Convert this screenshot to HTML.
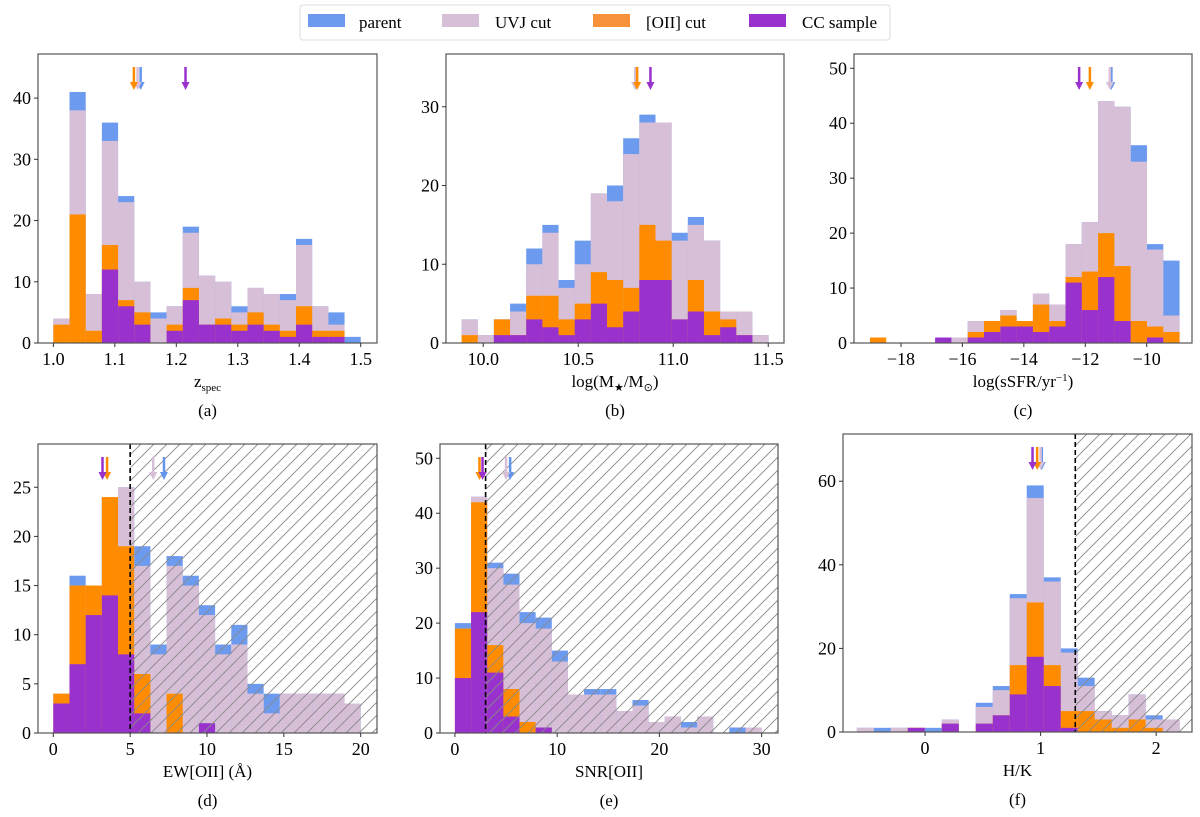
<!DOCTYPE html>
<html><head><meta charset="utf-8"><style>
body{margin:0;background:#fff;}
svg{display:block;font-family:"Liberation Serif",serif;}
</style></head><body>
<svg id="fig" width="1200" height="817" viewBox="0 0 1200 817">
<defs>
<pattern id="hatch" patternUnits="userSpaceOnUse" width="13" height="13">
<path d="M-1,14 L14,-1 M-1,1 L1,-1 M12,14 L14,12" stroke="#888" stroke-width="0.9"/>
</pattern>
</defs>
<g>
<rect x="300" y="5" width="590" height="35" rx="3" fill="#fff" stroke="#ddd"/>
<rect x="308" y="14" width="37" height="13" fill="#6495ed" opacity="0.95"/>
<text x="359" y="28" font-size="17">parent</text>
<rect x="442" y="14" width="37" height="13" fill="#d8bfd8"/>
<text x="495" y="28" font-size="17">UVJ cut</text>
<rect x="593" y="14" width="37" height="13" fill="#f7923a"/>
<text x="646" y="28" font-size="17">[OII] cut</text>
<rect x="749" y="14" width="37" height="13" fill="#9932cc"/>
<text x="802" y="28" font-size="17">CC sample</text>
</g>
</svg>
<script>
// ---- data ----
const zEdges0 = 1.0, zEdges1 = 1.5;
const zParent = [4,41,8,36,24,10,5,6,19,11,10,6,9,8,8,17,6,5,1];
const zUVJ    = [4,38,8,33,23,10,4,6,18,11,10,5,9,8,7,16,6,3,0];
const zOII    = [3,21,2,16,7,5,0,3,9,3,4,3,5,3,2,6,2,2,0];
const zCC     = [0,0,0,12,6,3,0,2,7,3,3,2,3,2,1,3,1,1,0];
const zMedians = [1.142,1.137,1.131,1.215];
const zTicks = [1.0,1.1,1.2,1.3,1.4,1.5];
const zYTicks = [0,10,20,30,40];

const mEdges0 = 9.886, mEdges1 = 11.502;
const mParent = [3,1,3,5,12,15,8,13,19,20,26,29,28,14,16,13,4,4,1];
const mUVJ    = [3,1,3,4,10,14,7,10,19,18,24,28,28,13,15,13,4,4,1];
const mOII    = [1,0,3,1,6,6,3,5,9,8,7,15,13,3,8,4,3,1,0];
const mCC     = [0,0,1,1,3,2,1,3,5,2,4,8,8,3,4,1,2,1,0];
const mMedians = [10.80,10.80,10.81,10.88];
const mTicks = [10.0,10.5,11.0,11.5];
const mYTicks = [0,10,20,30];

const sEdges0 = -19.01, sEdges1 = -8.93;
const sParent = [0,0,0,0,1,1,4,4,6,4,9,7,18,22,44,43,36,18,15];
const sUVJ    = [0,0,0,0,1,1,4,4,6,4,9,7,18,22,44,43,33,17,5];
const sOII    = [1,0,0,0,0,0,2,4,5,4,7,4,12,13,20,14,4,3,2];
const sCC     = [0,0,0,0,1,0,1,2,3,3,2,3,11,6,12,4,0,1,0];
const sMedians = [-11.15,-11.2,-11.85,-12.2];
const sTicks = [-18,-16,-14,-12,-10];
const sYTicks = [0,10,20,30,40,50];

const eEdges0 = 0, eEdges1 = 20;
const eParent = [4,16,15,24,25,19,9,18,16,13,9,11,5,4,4,4,4,4,3];
const eUVJ    = [4,15,15,24,25,17,8,17,15,12,8,9,4,2,4,4,4,4,3];
const eOII    = [4,15,15,24,19,6,0,4,0,0,0,0,0,0,0,0,0,0,0];
const eCC     = [3,7,12,14,8,2,0,0,0,1,0,0,0,0,0,0,0,0,0];
const eMedians = [7.2,6.5,3.5,3.2];
const eTicks = [0,5,10,15,20];
const eYTicks = [0,5,10,15,20,25];

const nEdges0 = 0, nEdges1 = 30;
const nParent = [20,43,31,29,22,21,15,7,8,8,4,6,2,3,2,3,0,1,1];
const nUVJ    = [19,43,30,27,20,19,13,7,7,7,4,5,2,3,1,3,0,0,1];
const nOII    = [19,42,16,8,2,1,0,0,0,0,0,0,0,0,0,0,0,0,0];
const nCC     = [10,22,11,3,0,1,0,0,0,0,0,0,0,0,0,0,0,0,0];
const nMedians = [5.4,5.0,2.4,2.7];
const nTicks = [0,10,20,30];
const nYTicks = [0,10,20,30,40,50];

const hEdges0 = -0.59, hEdges1 = 2.203;
const hParent = [1,1,1,1,1,3,0,7,11,33,59,37,20,13,5,4,9,4,3];
const hUVJ    = [1,0,1,1,0,3,0,6,10,32,56,36,19,11,5,4,9,3,3];
const hOII    = [0,0,0,1,0,2,0,2,4,16,31,16,5,5,3,1,3,1,0];
const hCC     = [0,0,0,1,0,2,0,2,4,9,18,11,1,0,0,0,0,0,0];
const hMedians = [1.01,1.0,0.97,0.93];
const hTicks = [0,1,2];
const hYTicks = [0,20,40,60];

// ---- drawing ----
const NS = "http://www.w3.org/2000/svg";
const svg = document.getElementById('fig');
const COLORS = ['#6495ed','#d8bfd8','#ff8c00','#9932cc'];
const SERIES = ['parent','uvj','oii','cc'];
function mk(tag, attrs, parent){
  const e = document.createElementNS(NS, tag);
  for (const k in attrs) e.setAttribute(k, attrs[k]);
  parent.appendChild(e); return e;
}
function panel(p){
  const g = mk('g', {}, svg);
  
  
  const sx = v => p.L + (v - p.xmin) / (p.xmax - p.xmin) * (p.R - p.L);
  const sy = v => p.B - v / p.ymax * (p.B - p.T);
  const clipId = 'clip' + p.id;
  const cp = mk('clipPath', {id: clipId}, g);
  mk('rect', {x:p.L, y:p.T, width:p.R-p.L, height:p.B-p.T}, cp);
  const plot = mk('g', {'clip-path':'url(#'+clipId+')'}, g);
  const n = p.series[0].length;
  const w = (p.e1 - p.e0) / n;
  p.series.forEach((arr, si) => {
    arr.forEach((v, i) => {
      if (v <= 0) return;
      const x0 = sx(p.e0 + i*w), x1 = sx(p.e0 + (i+1)*w);
      const r = mk('rect', {x:x0, y:sy(v), width:x1-x0, height:sy(0)-sy(v), fill:COLORS[si], opacity: si===0?0.95:1}, plot);
      
      
    });
  });
  if (p.cut !== undefined) {
    const hx = sx(p.cut);
    mk('rect', {x:hx, y:p.T, width:p.R-hx, height:p.B-p.T, fill:'url(#hatch)'}, plot);
    const dl = mk('line', {x1:hx, x2:hx, y1:p.T, y2:p.B, stroke:'#000', 'stroke-width':1.6, 'stroke-dasharray':'5,3'}, plot);
    
    
  }
  p.medians.forEach((m, si) => {
    const ax = sx(m);
    const a = mk('g', {}, g);
    
    
    mk('line', {x1:ax, x2:ax, y1:p.T+13, y2:p.T+30, stroke:COLORS[si], 'stroke-width':2.5}, a);
    mk('path', {d:`M${ax-4},${p.T+28} L${ax+4},${p.T+28} L${ax},${p.T+36} Z`, fill:COLORS[si]}, a);
  });
  const fr = mk('rect', {x:p.L, y:p.T, width:p.R-p.L, height:p.B-p.T, fill:'none', stroke:'#555', 'stroke-width':1.2}, g);
  
  
  p.xt.forEach(t => {
    const x = sx(t);
    mk('line', {x1:x, x2:x, y1:p.B, y2:p.B+4, stroke:'#333'}, g);
    const tx = mk('text', {x:x, y:p.B+22, 'font-size':18, 'text-anchor':'middle'}, g);
    tx.textContent = String(p.fmt ? p.fmt(t) : t).replace('-', '\u2212');
    
    
  });
  p.yt.forEach(t => {
    const y = sy(t);
    mk('line', {x1:p.L-4, x2:p.L, y1:y, y2:y, stroke:'#333'}, g);
    const ty = mk('text', {x:p.L-7, y:y+6, 'font-size':18, 'text-anchor':'end'}, g);
    ty.textContent = t;
    
    
  });
  const xl = mk('text', {x:(p.L+p.R)/2, y:p.B+44, 'font-size':17, 'text-anchor':'middle'}, g);
  xl.innerHTML = p.xlabel;
  
  
  const cap = mk('text', {x:(p.L+p.R)/2, y:p.B+73, 'font-size':17, 'text-anchor':'middle'}, g);
  cap.textContent = '(' + p.id + ')';
  
  
}
const f1 = t => t.toFixed(1);
panel({id:'a', L:38, R:377, T:54, B:343, xmin:0.975, xmax:1.5265, ymax:47.2, e0:zEdges0, e1:zEdges1,
  series:[zParent,zUVJ,zOII,zCC], medians:zMedians, xt:zTicks, yt:zYTicks, fmt:f1,
  xlabel:'z<tspan font-size="11" dy="4">spec</tspan>'});
panel({id:'b', L:446, R:784, T:54, B:343, xmin:9.804, xmax:11.583, ymax:36.7, e0:mEdges0, e1:mEdges1,
  series:[mParent,mUVJ,mOII,mCC], medians:mMedians, xt:mTicks, yt:mYTicks, fmt:f1,
  xlabel:'log(M<tspan font-size="11" dy="4">★</tspan><tspan dy="-4">/M</tspan><tspan font-size="11" dy="4">⊙</tspan><tspan dy="-4">)</tspan>'});
panel({id:'c', L:854, R:1192, T:54, B:343, xmin:-19.53, xmax:-8.525, ymax:52.6, e0:sEdges0, e1:sEdges1,
  series:[sParent,sUVJ,sOII,sCC], medians:sMedians, xt:sTicks, yt:sYTicks,
  xlabel:'log(sSFR/yr<tspan font-size="11" dy="-6">−1</tspan><tspan dy="6">)</tspan>'});
panel({id:'d', L:38, R:377, T:444, B:733, xmin:-0.996, xmax:21.06, ymax:29.4, e0:eEdges0, e1:eEdges1, cut:5,
  series:[eParent,eUVJ,eOII,eCC], medians:eMedians, xt:eTicks, yt:eYTicks,
  xlabel:'EW[OII] (Å)'});
panel({id:'e', L:440, R:778, T:444, B:733, xmin:-1.46, xmax:31.6, ymax:52.6, e0:nEdges0, e1:nEdges1, cut:3,
  series:[nParent,nUVJ,nOII,nCC], medians:nMedians, xt:nTicks, yt:nYTicks,
  xlabel:'SNR[OII]'});
panel({id:'f', L:843, R:1192, T:434, B:732, xmin:-0.71, xmax:2.31, ymax:71.3, e0:hEdges0, e1:hEdges1, cut:1.3,
  series:[hParent,hUVJ,hOII,hCC], medians:hMedians, xt:hTicks, yt:hYTicks,
  xlabel:'H/K'});
</script>
</body></html>
